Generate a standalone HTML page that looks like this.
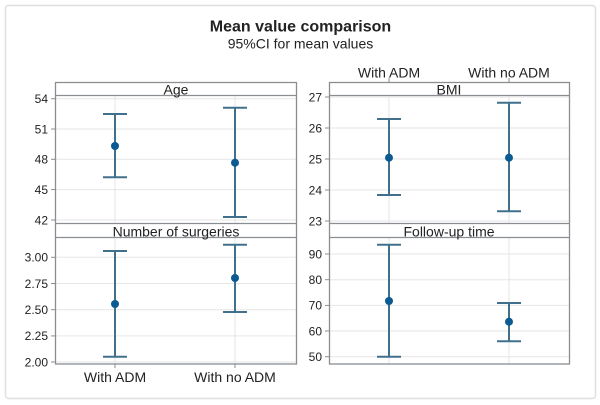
<!DOCTYPE html>
<html><head><meta charset="utf-8"><style>
html,body{margin:0;padding:0;background:#fff;}
svg{display:block;}
text{font-family:"Liberation Sans",Arial,sans-serif;fill:#222;}
</style></head><body>
<svg width="600" height="405" viewBox="0 0 600 405" xmlns="http://www.w3.org/2000/svg">
<rect x="5.5" y="5.5" width="590" height="393" rx="3" fill="#fff" stroke="#e0e0e0" stroke-width="1.5"/>
<text x="300.5" y="31.5" font-size="16" font-weight="bold" text-anchor="middle">Mean value comparison</text>
<text x="300.5" y="48.5" font-size="14" text-anchor="middle" fill="#333">95%CI for mean values</text>

<!-- grid lines -->
<g stroke="#e6e6e6" stroke-width="1">
  <!-- Age -->
  <line x1="56" x2="296" y1="98.7" y2="98.7"/><line x1="56" x2="296" y1="129" y2="129"/><line x1="56" x2="296" y1="159.3" y2="159.3"/><line x1="56" x2="296" y1="189.6" y2="189.6"/><line x1="56" x2="296" y1="220" y2="220"/>
  <line x1="115" x2="115" y1="95" y2="223"/><line x1="235" x2="235" y1="95" y2="223"/>
  <!-- Surgeries -->
  <line x1="56" x2="296" y1="257.3" y2="257.3"/><line x1="56" x2="296" y1="283.5" y2="283.5"/><line x1="56" x2="296" y1="309.7" y2="309.7"/><line x1="56" x2="296" y1="335.9" y2="335.9"/><line x1="56" x2="296" y1="362" y2="362"/>
  <line x1="115" x2="115" y1="237" y2="364"/><line x1="235" x2="235" y1="237" y2="364"/>
  <!-- BMI -->
  <line x1="329" x2="569" y1="97" y2="97"/><line x1="329" x2="569" y1="128" y2="128"/><line x1="329" x2="569" y1="159" y2="159"/><line x1="329" x2="569" y1="190" y2="190"/><line x1="329" x2="569" y1="221" y2="221"/>
  <line x1="389" x2="389" y1="95" y2="223"/><line x1="509" x2="509" y1="95" y2="223"/>
  <!-- Follow-up -->
  <line x1="329" x2="569" y1="254" y2="254"/><line x1="329" x2="569" y1="279.7" y2="279.7"/><line x1="329" x2="569" y1="305.4" y2="305.4"/><line x1="329" x2="569" y1="331" y2="331"/><line x1="329" x2="569" y1="356.7" y2="356.7"/>
  <line x1="389" x2="389" y1="237" y2="364"/><line x1="509" x2="509" y1="237" y2="364"/>
</g>

<!-- panel borders -->
<g fill="none" stroke="#8a8e92" stroke-width="1.3">
  <rect x="55.5" y="82.5" width="241" height="281.5"/>
  <line x1="55.5" x2="296.5" y1="95.5" y2="95.5"/>
  <line x1="55.5" x2="296.5" y1="223.5" y2="223.5"/>
  <line x1="55.5" x2="296.5" y1="237.5" y2="237.5"/>
  <rect x="329.5" y="82.5" width="240" height="281.5"/>
  <line x1="329.5" x2="569.5" y1="95.5" y2="95.5"/>
  <line x1="329.5" x2="569.5" y1="223.5" y2="223.5"/>
  <line x1="329.5" x2="569.5" y1="237.5" y2="237.5"/>
</g>

<!-- axis tick marks -->
<g stroke="#8a8e92" stroke-width="1">
  <line x1="51" x2="55" y1="98.7" y2="98.7"/><line x1="51" x2="55" y1="129" y2="129"/><line x1="51" x2="55" y1="159.3" y2="159.3"/><line x1="51" x2="55" y1="189.6" y2="189.6"/><line x1="51" x2="55" y1="220" y2="220"/>
  <line x1="51" x2="55" y1="257.3" y2="257.3"/><line x1="51" x2="55" y1="283.5" y2="283.5"/><line x1="51" x2="55" y1="309.7" y2="309.7"/><line x1="51" x2="55" y1="335.9" y2="335.9"/><line x1="51" x2="55" y1="362" y2="362"/>
  <line x1="325" x2="329" y1="97" y2="97"/><line x1="325" x2="329" y1="128" y2="128"/><line x1="325" x2="329" y1="159" y2="159"/><line x1="325" x2="329" y1="190" y2="190"/><line x1="325" x2="329" y1="221" y2="221"/>
  <line x1="325" x2="329" y1="254" y2="254"/><line x1="325" x2="329" y1="279.7" y2="279.7"/><line x1="325" x2="329" y1="305.4" y2="305.4"/><line x1="325" x2="329" y1="331" y2="331"/><line x1="325" x2="329" y1="356.7" y2="356.7"/>
  <line x1="115" x2="115" y1="364" y2="368"/><line x1="235" x2="235" y1="364" y2="368"/>
  <line x1="389" x2="389" y1="78" y2="82"/><line x1="509" x2="509" y1="78" y2="82"/>
</g>

<!-- tick labels -->
<g font-size="12" text-anchor="end">
  <text x="48" y="103">54</text><text x="48" y="133.3">51</text><text x="48" y="163.6">48</text><text x="48" y="193.9">45</text><text x="48" y="224.3">42</text>
  <text x="48" y="261.6">3.00</text><text x="48" y="287.8">2.75</text><text x="48" y="314">2.50</text><text x="48" y="340.2">2.25</text><text x="48" y="366.3">2.00</text>
  <text x="322" y="101.3">27</text><text x="322" y="132.3">26</text><text x="322" y="163.3">25</text><text x="322" y="194.3">24</text><text x="322" y="225.3">23</text>
  <text x="322" y="258.3">90</text><text x="322" y="284">80</text><text x="322" y="309.7">70</text><text x="322" y="335.3">60</text><text x="322" y="361">50</text>
</g>

<!-- strip labels -->
<g font-size="14" text-anchor="middle">
  <text x="176" y="94.5">Age</text>
  <text x="176" y="236.3">Number of surgeries</text>
  <text x="449" y="94.5">BMI</text>
  <text x="449" y="236.3">Follow-up time</text>
</g>

<!-- category labels -->
<g font-size="14" text-anchor="middle">
  <text x="389" y="77.5">With ADM</text>
  <text x="509" y="77.5">With no ADM</text>
  <text x="115" y="382">With ADM</text>
  <text x="235" y="382">With no ADM</text>
</g>

<!-- error bars -->
<g stroke="#41708c" stroke-width="2" fill="none">
  <!-- Age -->
  <line x1="115" x2="115" y1="114" y2="177.3"/><line x1="103" x2="127" y1="114" y2="114"/><line x1="103" x2="127" y1="177.3" y2="177.3"/>
  <line x1="235" x2="235" y1="107.7" y2="217"/><line x1="223" x2="247" y1="107.7" y2="107.7"/><line x1="223" x2="247" y1="217" y2="217"/>
  <!-- Surgeries -->
  <line x1="115" x2="115" y1="251" y2="356.7"/><line x1="103" x2="127" y1="251" y2="251"/><line x1="103" x2="127" y1="356.7" y2="356.7"/>
  <line x1="235" x2="235" y1="244.7" y2="312"/><line x1="223" x2="247" y1="244.7" y2="244.7"/><line x1="223" x2="247" y1="312" y2="312"/>
  <!-- BMI -->
  <line x1="389" x2="389" y1="119" y2="195"/><line x1="377" x2="401" y1="119" y2="119"/><line x1="377" x2="401" y1="195" y2="195"/>
  <line x1="509" x2="509" y1="102.7" y2="211.3"/><line x1="497" x2="521" y1="102.7" y2="102.7"/><line x1="497" x2="521" y1="211.3" y2="211.3"/>
  <!-- Follow-up -->
  <line x1="389" x2="389" y1="244.7" y2="356.7"/><line x1="377" x2="401" y1="244.7" y2="244.7"/><line x1="377" x2="401" y1="356.7" y2="356.7"/>
  <line x1="509" x2="509" y1="303" y2="341.3"/><line x1="497" x2="521" y1="303" y2="303"/><line x1="497" x2="521" y1="341.3" y2="341.3"/>
</g>

<!-- points -->
<g fill="#0c5a92">
  <circle cx="115" cy="146" r="4"/>
  <circle cx="235" cy="162.7" r="4"/>
  <circle cx="115" cy="304" r="4"/>
  <circle cx="235" cy="278" r="4"/>
  <circle cx="389" cy="157.7" r="4"/>
  <circle cx="509" cy="157.7" r="4"/>
  <circle cx="389" cy="301" r="4"/>
  <circle cx="509" cy="321.7" r="4"/>
</g>
</svg>
</body></html>
